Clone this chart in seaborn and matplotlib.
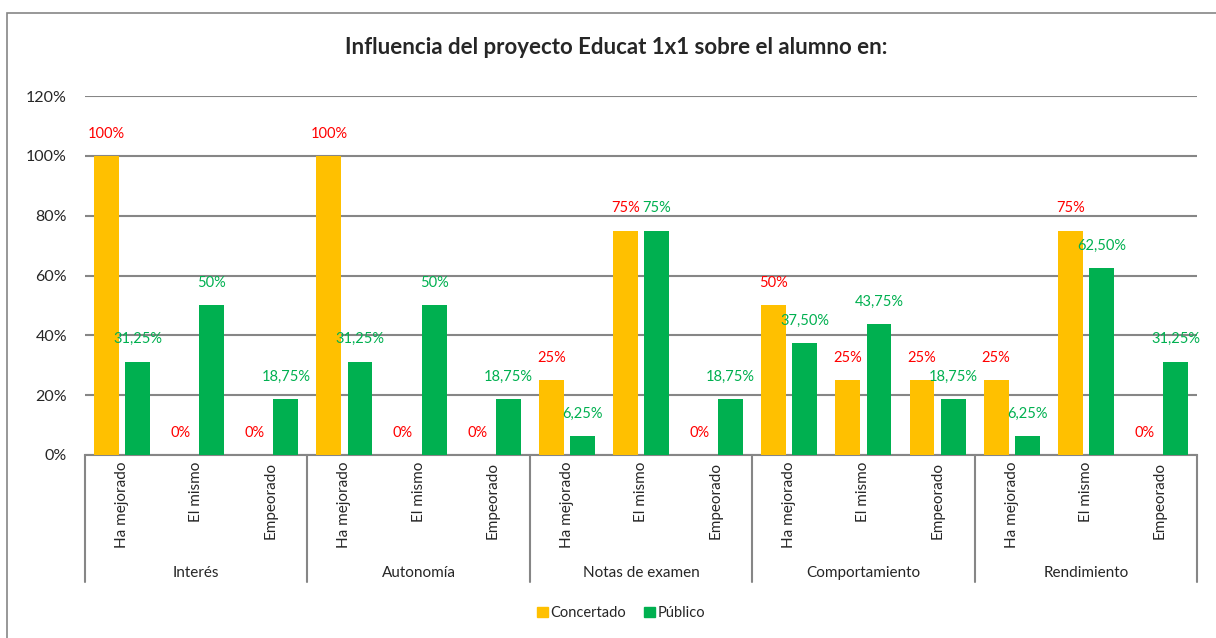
import numpy as np
import pandas as pd
import matplotlib
matplotlib.use('Agg')
import matplotlib.pyplot as plt
import seaborn as sns
from matplotlib.patches import Rectangle, Patch

grupos = ["Interés", "Autonomía", "Notas de examen", "Comportamiento", "Rendimiento"]
opciones = ["Ha mejorado", "El mismo", "Empeorado"]
concertado = [100, 0, 0, 100, 0, 0, 25, 75, 0, 50, 25, 25, 25, 75, 0]
publico = [31.25, 50, 18.75, 31.25, 50, 18.75, 6.25, 75, 18.75, 37.5, 43.75, 18.75, 6.25, 62.5, 31.25]
yticks = [0, 20, 40, 60, 80, 100, 120]

claves = [g + "|" + o for g in grupos for o in opciones]
df = pd.DataFrame({
    "cat": claves * 2,
    "valor": concertado + publico,
    "tipo": ["Concertado"] * 15 + ["Público"] * 15,
})

def fmt(v):
    if float(v).is_integer():
        return "%d%%" % v
    return ("%.2f%%" % v).replace(".", ",")

sns.set_style("white")
plt.rcParams['font.family'] = ['Lato', 'DejaVu Sans']

fig = plt.figure(figsize=(12.16, 6.38), dpi=100)
ax = fig.add_axes([85/1216, (638-455)/638, (1197-85)/1216, (455-96)/638])

sns.barplot(data=df, x="cat", y="valor", hue="tipo", order=claves,
            palette={"Concertado": "#FFC000", "Público": "#00B050"},
            saturation=1, linewidth=0, width=0.84, gap=0.2, ax=ax,
            legend=False, zorder=3)

ax.set_ylim(0, 120)
ax.set_xlim(-0.5, 14.5)
ax.set_yticks(yticks)
ax.set_yticklabels(["%d%%" % t for t in yticks], fontsize=11.5)
ax.yaxis.grid(True, color="#868686", linewidth=1.5, zorder=0)
ax.set_axisbelow(True)
ax.tick_params(axis="y", length=0, pad=13)
ax.tick_params(axis="x", length=0, pad=5)
ax.set_xticks(range(15))
ax.set_xticklabels(opciones * 5, rotation=90, fontsize=11, va="top")
ax.set_xlabel("")
ax.set_ylabel("")
for s in ["top", "right", "left"]:
    ax.spines[s].set_visible(False)
ax.spines["bottom"].set_color("#868686")
ax.spines["bottom"].set_linewidth(1.5)

ax.bar_label(ax.containers[0], labels=[fmt(v) for v in concertado],
             padding=11, color="#FF0000", fontsize=10.5)
ax.bar_label(ax.containers[1], labels=[fmt(v) for v in publico],
             padding=11, color="#00B050", fontsize=10.5)

trans = ax.get_xaxis_transform()
y_sep = (455 - 582) / (455 - 96)
for b in range(6):
    x = -0.5 + 3 * b
    ax.plot([x, x], [0, y_sep], color="#868686", linewidth=1.5,
            transform=trans, clip_on=False)
y_grp = (455 - 573) / (455 - 96)
for i, g in enumerate(grupos):
    ax.text(3 * i + 1, y_grp, g, transform=trans, ha="center", va="center", fontsize=11)

fig.text(616/1216, (638-48)/638, "Influencia del proyecto Educat 1x1 sobre el alumno en:",
         ha="center", va="center", fontsize=16, fontweight="bold")

handles = [Patch(color="#FFC000", label="Concertado"), Patch(color="#00B050", label="Público")]
fig.legend(handles=handles, loc="center", bbox_to_anchor=(621/1216, (638-613)/638),
           ncol=2, frameon=False, fontsize=10.5, handlelength=0.75, handleheight=0.75,
           handletextpad=0.2, columnspacing=1.2)

fig.patches.append(Rectangle((7/1216, -0.1), 1.2, (638-13)/638 + 0.1,
                             transform=fig.transFigure, fill=False,
                             edgecolor="#868686", linewidth=1.2))

fig.savefig("out.png", dpi=100)
